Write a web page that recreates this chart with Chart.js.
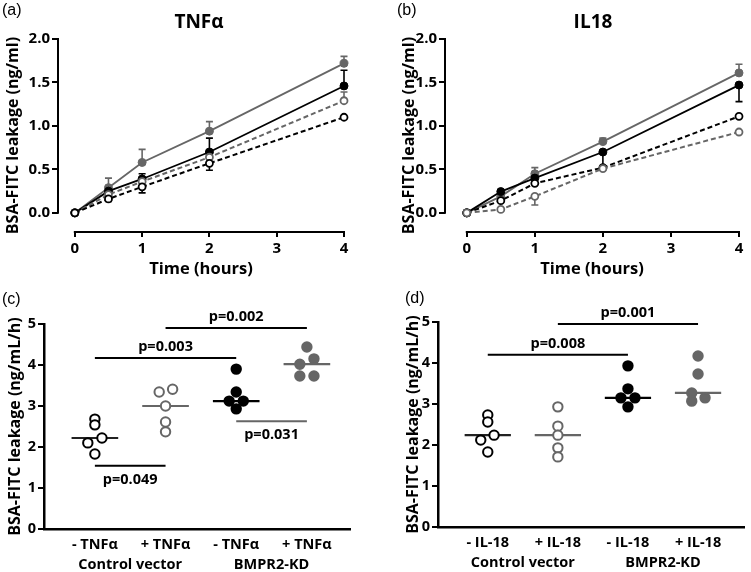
<!DOCTYPE html>
<html>
<head>
<meta charset="utf-8">
<script src="https://cdn.jsdelivr.net/npm/chart.js@4/dist/chart.umd.min.js"></script>
<style>
  body { margin: 0; background: #fff; }
  .wrap { position: relative; width: 751px; height: 572px; overflow: hidden; }
  .panel { position: absolute; }
</style>
</head>
<body>
<div class="wrap">
  <div class="panel" style="left:0;top:0;width:375px;height:280px"><canvas id="chartA"></canvas></div>
  <div class="panel" style="left:375px;top:0;width:376px;height:280px"><canvas id="chartB"></canvas></div>
  <div class="panel" style="left:0;top:280px;width:375px;height:292px"><canvas id="chartC"></canvas></div>
  <div class="panel" style="left:375px;top:280px;width:376px;height:292px"><canvas id="chartD"></canvas></div>
</div>
<script>
// ---- data ------------------------------------------------------------
const timePoints = [0, 0.5, 1, 2, 4];
const timeTicks = [0, 1, 2, 3, 4];
const leakTicks = [0, 0.5, 1, 1.5, 2];

// (a) TNFa time course
const aKdPlus = [0, 0.29, 0.58, 0.94, 1.72];
const aKdPlusErr = [0, 0.11, 0.15, 0.11, 0.08];
const aKdMinus = [0, 0.25, 0.39, 0.70, 1.46];
const aKdMinusErr = [0, 0.05, 0.06, 0.16, 0.18];
const aCtrlPlus = [0, 0.21, 0.36, 0.64, 1.29];
const aCtrlPlusErr = [0, 0, 0, 0, 0.1];
const aCtrlMinus = [0, 0.16, 0.30, 0.57, 1.10];
const aCtrlMinusErr = [0, 0.03, 0.07, 0.08, 0];

// (b) IL18 time course
const bKdPlus = [0, 0.19, 0.45, 0.82, 1.61];
const bKdPlusErr = [0, 0, 0.07, 0.04, 0.1];
const bKdMinus = [0, 0.245, 0.40, 0.70, 1.47];
const bKdMinusErr = [0, 0, 0, 0.17, 0.19];
const bCtrlMinus = [0, 0.14, 0.34, 0.52, 1.11];
const bCtrlMinusErr = [0, 0, 0, 0, 0];
const bCtrlPlus = [0, 0.04, 0.19, 0.51, 0.93];
const bCtrlPlusErr = [0, 0, 0.1, 0, 0];

// (c) TNFa leakage rate
const cLabels = ["- TNF\u03b1", "+ TNF\u03b1", "- TNF\u03b1", "+ TNF\u03b1"];
const cCtrlMinus = [2.68, 2.54, 2.22, 2.10, 1.83];
const cCtrlPlus = [3.34, 3.41, 3.00, 2.61, 2.37];
const cKdMinus = [3.90, 3.34, 3.12, 3.12, 2.93];
const cKdPlus = [4.44, 4.15, 4.02, 3.73, 3.73];
const cJitter = [
  [0, 0, 0.1, -0.1, 0],
  [-0.09, 0.1, 0, 0, 0],
  [0, 0, -0.1, 0.1, 0],
  [0, 0.1, -0.1, -0.1, 0.1]
];
const cPvals = ["p=0.049", "p=0.003", "p=0.002", "p=0.031"];
const cPairs = [[0, 1], [0, 2], [1, 3], [2, 3]];
const cLevels = [1.54, 4.17, 4.9, 2.63];

// (d) IL-18 leakage rate
const dLabels = ["- IL-18", "+ IL-18", "- IL-18", "+ IL-18"];
const dCtrlMinus = [2.73, 2.56, 2.24, 2.12, 1.83];
const dCtrlPlus = [2.93, 2.46, 2.24, 1.93, 1.71];
const dKdMinus = [3.93, 3.37, 3.15, 3.15, 2.93];
const dKdPlus = [4.17, 3.73, 3.27, 3.07, 3.15];
const dJitter = [
  [0, 0, 0.09, -0.1, 0],
  [0, 0, 0, 0, 0],
  [0, 0, -0.1, 0.1, 0],
  [0, 0, -0.09, -0.09, 0.1]
];
const dPvals = ["p=0.008", "p=0.001"];
const dPairs = [[0, 2], [1, 3]];
const dLevels = [4.2, 4.95];

const groupLabels = ["Control vector", "BMPR2-KD"];

// ---- styling ---------------------------------------------------------
const GREY = "#666666";
const BLACK = "#000000";
const FAMILY = "'Open Sans'";
Chart.defaults.font.family = FAMILY;
Chart.defaults.color = "#000";
const boldFont = (size) => ({ family: FAMILY, weight: "bold", size: size });

function median(arr) {
  const s = arr.slice().sort((a, b) => a - b);
  return s[Math.floor(s.length / 2)];
}

function toXY(ys) {
  return ys.map((v, i) => ({ x: timePoints[i], y: v }));
}

// error bars (one-sided, like the original)
const errorBars = {
  id: "errorBars",
  beforeDatasetsDraw(chart) {
    const { ctx, scales: { x, y } } = chart;
    chart.data.datasets.forEach((ds) => {
      if (!ds.errors) return;
      ctx.save();
      ctx.strokeStyle = ds.borderColor;
      ctx.lineWidth = 1.6;
      ds.data.forEach((p, i) => {
        const e = ds.errors[i];
        if (!e) return;
        const px = x.getPixelForValue(p.x);
        const y0 = y.getPixelForValue(p.y);
        const y1 = y.getPixelForValue(p.y + ds.errorSign * e);
        ctx.beginPath();
        ctx.moveTo(px, y0);
        ctx.lineTo(px, y1);
        ctx.moveTo(px - 3.5, y1);
        ctx.lineTo(px + 3.5, y1);
        ctx.stroke();
      });
      ctx.restore();
    });
  }
};

// GraphPad style detached axes for the time course charts
const offsetAxes = {
  id: "offsetAxes",
  beforeDatasetsDraw(chart) {
    const { ctx, chartArea, scales: { x, y } } = chart;
    ctx.save();
    ctx.strokeStyle = "#000";
    ctx.lineWidth = 2;
    ctx.beginPath();
    ctx.moveTo(chartArea.left, y.getPixelForValue(leakTicks[0]) + 1);
    ctx.lineTo(chartArea.left, y.getPixelForValue(leakTicks[leakTicks.length - 1]) - 1);
    ctx.moveTo(x.getPixelForValue(timeTicks[0]) - 1, chartArea.bottom);
    ctx.lineTo(x.getPixelForValue(timeTicks[timeTicks.length - 1]) + 1, chartArea.bottom);
    ctx.stroke();
    ctx.restore();
  }
};

// free text (panel letters, titles)
const panelText = {
  id: "panelText",
  afterDraw(chart, args, opts) {
    const { ctx } = chart;
    (opts.items || []).forEach((t) => {
      ctx.save();
      ctx.font = t.font;
      ctx.fillStyle = "#000";
      ctx.textAlign = t.align || "center";
      ctx.textBaseline = "middle";
      ctx.fillText(t.text, t.x, t.y);
      ctx.restore();
    });
  }
};

// significance brackets and group labels for the dot plots
const sigBrackets = {
  id: "sigBrackets",
  afterDatasetsDraw(chart, args, opts) {
    const { ctx, scales: { x, y } } = chart;
    ctx.save();
    (opts.pairs || []).forEach((pair, i) => {
      const x0 = x.getPixelForValue(pair[0]);
      const x1 = x.getPixelForValue(pair[1]);
      const py = y.getPixelForValue(opts.levels[i]);
      const below = opts.below[i];
      ctx.strokeStyle = opts.colors[i];
      ctx.lineWidth = 2;
      ctx.beginPath();
      ctx.moveTo(x0, py);
      ctx.lineTo(x1, py);
      ctx.stroke();
      ctx.font = "bold 14.5px " + FAMILY;
      ctx.fillStyle = "#000";
      ctx.textAlign = "center";
      ctx.textBaseline = "middle";
      ctx.fillText(opts.labels[i], (x0 + x1) / 2, below ? py + 14 : py - 11);
    });
    ctx.font = "bold 14.5px " + FAMILY;
    ctx.textAlign = "center";
    ctx.textBaseline = "middle";
    ctx.fillStyle = "#000";
    groupLabels.forEach((g, i) => {
      ctx.fillText(g, x.getPixelForValue(i * 2 + 0.5), x.top + 36);
    });
    ctx.restore();
  }
};

// ---- time course charts ----------------------------------------------
function lineDataset(ys, errs, sign, color, dashed, open) {
  return {
    data: toXY(ys),
    errors: errs,
    errorSign: sign,
    borderColor: color,
    borderWidth: dashed ? 2 : 1.8,
    borderDash: dashed ? [5, 3] : [],
    pointRadius: open ? 3.5 : 4,
    pointBorderWidth: open ? 1.8 : 1,
    pointBorderColor: color,
    pointBackgroundColor: open ? "#fff" : color,
    tension: 0,
    fill: false,
    clip: false
  };
}

function timeCourseOptions(xMin, rightPad, yTitlePad, items) {
  return {
    responsive: true,
    maintainAspectRatio: false,
    animation: false,
    layout: { padding: { top: 39, right: rightPad, left: 0, bottom: 0 } },
    plugins: {
      legend: { display: false },
      tooltip: { enabled: false },
      panelText: { items: items }
    },
    scales: {
      x: {
        type: "linear",
        min: xMin,
        max: 4,
        afterFit: (s) => { s.height = 48; },
        afterBuildTicks: (s) => { s.ticks = timeTicks.map((v) => ({ value: v })); },
        ticks: { font: boldFont(15), color: "#000", padding: 3, maxRotation: 0 },
        grid: { drawOnChartArea: false, drawTicks: true, tickLength: 5, color: "#000", lineWidth: 2 },
        border: { display: false },
        title: { display: true, text: "Time (hours)", font: boldFont(16.5), color: "#000", padding: { top: 0, bottom: 1 } }
      },
      y: {
        min: -0.22,
        max: 2,
        afterFit: (s) => { s.width = yTitlePad.width; },
        afterBuildTicks: (s) => { s.ticks = leakTicks.map((v) => ({ value: v })); },
        ticks: { font: boldFont(15), color: "#000", padding: 2, callback: (v) => v.toFixed(1) },
        grid: { drawOnChartArea: false, drawTicks: true, tickLength: 6, color: "#000", lineWidth: 2 },
        border: { display: false },
        title: { display: true, text: "BSA-FITC leakage (ng/ml)", font: boldFont(16), color: "#000", padding: { top: yTitlePad.pad, bottom: 0 } }
      }
    }
  };
}

new Chart(document.getElementById("chartA"), {
  type: "line",
  data: {
    datasets: [
      lineDataset(aCtrlMinus, aCtrlMinusErr, -1, BLACK, true, true),
      lineDataset(aCtrlPlus, aCtrlPlusErr, 1, GREY, true, true),
      lineDataset(aKdMinus, aKdMinusErr, 1, BLACK, false, false),
      lineDataset(aKdPlus, aKdPlusErr, 1, GREY, false, false)
    ]
  },
  options: timeCourseOptions(-0.25, 31, { width: 58, pad: 4 }, [
    { text: "(a)", x: 2, y: 11, font: "16px 'Liberation Sans'", align: "left" },
    { text: "TNF\u03b1", x: 199, y: 23, font: "bold 19px " + FAMILY }
  ]),
  plugins: [offsetAxes, errorBars, panelText]
});

new Chart(document.getElementById("chartB"), {
  type: "line",
  data: {
    datasets: [
      lineDataset(bCtrlPlus, bCtrlPlusErr, -1, GREY, true, true),
      lineDataset(bCtrlMinus, bCtrlMinusErr, -1, BLACK, true, true),
      lineDataset(bKdMinus, bKdMinusErr, -1, BLACK, false, false),
      lineDataset(bKdPlus, bKdPlusErr, 1, GREY, false, false)
    ]
  },
  options: timeCourseOptions(-0.32, 12, { width: 70, pad: 25 }, [
    { text: "(b)", x: 22, y: 11, font: "16px 'Liberation Sans'", align: "left" },
    { text: "IL18", x: 218, y: 23, font: "bold 19px " + FAMILY }
  ]),
  plugins: [offsetAxes, errorBars, panelText]
});

// ---- dot plots -------------------------------------------------------
function dotDataset(values, jitter, group, color, open) {
  return {
    type: "scatter",
    data: values.map((v, i) => ({ x: group + jitter[i], y: v })),
    pointRadius: 4.7,
    pointBorderWidth: 2,
    pointBorderColor: color,
    pointBackgroundColor: open ? "#fff" : color,
    clip: false,
    order: 1
  };
}

function medianDataset(values, group, color) {
  const m = median(values);
  return {
    type: "line",
    data: [{ x: group - 0.33, y: m }, { x: group + 0.33, y: m }],
    borderColor: color,
    borderWidth: 2.2,
    pointRadius: 0,
    clip: false,
    order: 2
  };
}

function dotOptions(layoutPad, yWidth, xHeight, xMin, xMax, titlePad, labels, brackets, items) {
  return {
    responsive: true,
    maintainAspectRatio: false,
    animation: false,
    layout: { padding: layoutPad },
    plugins: {
      legend: { display: false },
      tooltip: { enabled: false },
      panelText: { items: items },
      sigBrackets: brackets
    },
    scales: {
      x: {
        type: "linear",
        min: xMin,
        max: xMax,
        afterFit: (s) => { s.height = xHeight; },
        afterBuildTicks: (s) => { s.ticks = labels.map((l, i) => ({ value: i })); },
        ticks: { font: boldFont(14.5), color: "#000", padding: 7, maxRotation: 0, callback: (v) => labels[v] },
        grid: { display: false, drawTicks: false },
        border: { display: true, color: "#000", width: 2.5 }
      },
      y: {
        min: 0,
        max: 5,
        afterFit: (s) => { s.width = yWidth; },
        ticks: { stepSize: 1, font: boldFont(14.5), color: "#000", padding: 2 },
        grid: { drawOnChartArea: false, drawTicks: true, tickLength: 6, color: "#000", lineWidth: 2 },
        border: { display: true, color: "#000", width: 2.5 },
        title: { display: true, text: "BSA-FITC leakage (ng/mL/h)", font: boldFont(16), color: "#000", padding: { top: titlePad, bottom: 0 } }
      }
    }
  };
}

new Chart(document.getElementById("chartC"), {
  data: {
    datasets: [
      dotDataset(cCtrlMinus, cJitter[0], 0, BLACK, true),
      dotDataset(cCtrlPlus, cJitter[1], 1, GREY, true),
      dotDataset(cKdMinus, cJitter[2], 2, BLACK, false),
      dotDataset(cKdPlus, cJitter[3], 3, GREY, false),
      medianDataset(cCtrlMinus, 0, "#222"),
      medianDataset(cCtrlPlus, 1, GREY),
      medianDataset(cKdMinus, 2, BLACK),
      medianDataset(cKdPlus, 3, GREY)
    ]
  },
  options: dotOptions({ top: 44, right: 25, left: 0, bottom: 0 }, 44, 43, -0.72, 3.61, 6, cLabels, {
    pairs: cPairs,
    levels: cLevels,
    labels: cPvals,
    below: [true, false, false, true],
    colors: [BLACK, BLACK, BLACK, GREY]
  }, [
    { text: "(c)", x: 2, y: 20, font: "16px 'Liberation Sans'", align: "left" }
  ]),
  plugins: [sigBrackets, panelText]
});

new Chart(document.getElementById("chartD"), {
  data: {
    datasets: [
      dotDataset(dCtrlMinus, dJitter[0], 0, BLACK, true),
      dotDataset(dCtrlPlus, dJitter[1], 1, GREY, true),
      dotDataset(dKdMinus, dJitter[2], 2, BLACK, false),
      dotDataset(dKdPlus, dJitter[3], 3, GREY, false),
      medianDataset(dCtrlMinus, 0, "#222"),
      medianDataset(dCtrlPlus, 1, GREY),
      medianDataset(dKdMinus, 2, BLACK),
      medianDataset(dKdPlus, 3, GREY)
    ]
  },
  options: dotOptions({ top: 42, right: 4, left: 0, bottom: 0 }, 63, 45, -0.71, 3.66, 29, dLabels, {
    pairs: dPairs,
    levels: dLevels,
    labels: dPvals,
    below: [false, false],
    colors: [BLACK, BLACK]
  }, [
    { text: "(d)", x: 30, y: 19, font: "16px 'Liberation Sans'", align: "left" }
  ]),
  plugins: [sigBrackets, panelText]
});
</script>
</body>
</html>
